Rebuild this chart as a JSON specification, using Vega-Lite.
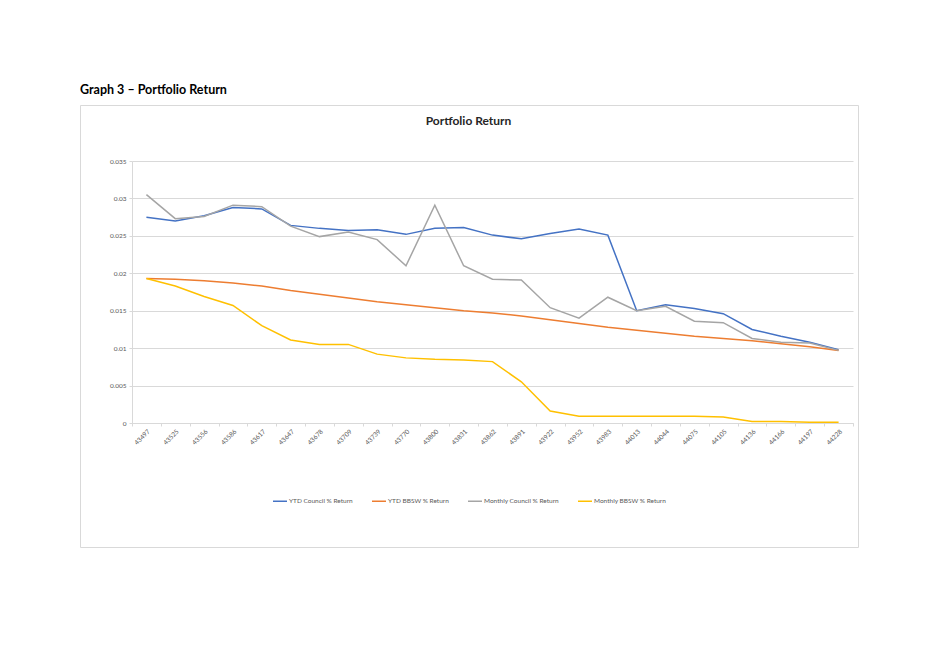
{
  "$schema": "https://vega.github.io/schema/vega-lite/v6.json",
  "width": 778,
  "height": 442,
  "autosize": {"type": "none"},
  "padding": {"left": 80, "top": 105, "right": 81, "bottom": 117},
  "background": "white",
  "title": {"text": "Graph 3 – Portfolio Return", "anchor": "start", "frame": "group", "fontSize": 12.5, "fontWeight": "bold", "color": "#000000", "offset": 9, "font": "Lato"},
  "config": {
    "font": "Lato",
    "view": {"stroke": "#d9d9d9", "strokeWidth": 1}
  },
  "datasets": {
    "series": [
      {"date": "43497", "series": "YTD Council % Return", "value": 0.0275},
      {"date": "43525", "series": "YTD Council % Return", "value": 0.0270},
      {"date": "43556", "series": "YTD Council % Return", "value": 0.0277},
      {"date": "43586", "series": "YTD Council % Return", "value": 0.0288},
      {"date": "43617", "series": "YTD Council % Return", "value": 0.0286},
      {"date": "43647", "series": "YTD Council % Return", "value": 0.0264},
      {"date": "43678", "series": "YTD Council % Return", "value": 0.0260},
      {"date": "43709", "series": "YTD Council % Return", "value": 0.0257},
      {"date": "43739", "series": "YTD Council % Return", "value": 0.0258},
      {"date": "43770", "series": "YTD Council % Return", "value": 0.0252},
      {"date": "43800", "series": "YTD Council % Return", "value": 0.0260},
      {"date": "43831", "series": "YTD Council % Return", "value": 0.0261},
      {"date": "43862", "series": "YTD Council % Return", "value": 0.0251},
      {"date": "43891", "series": "YTD Council % Return", "value": 0.0246},
      {"date": "43922", "series": "YTD Council % Return", "value": 0.0253},
      {"date": "43952", "series": "YTD Council % Return", "value": 0.0259},
      {"date": "43983", "series": "YTD Council % Return", "value": 0.0251},
      {"date": "44013", "series": "YTD Council % Return", "value": 0.0150},
      {"date": "44044", "series": "YTD Council % Return", "value": 0.0158},
      {"date": "44075", "series": "YTD Council % Return", "value": 0.0153},
      {"date": "44105", "series": "YTD Council % Return", "value": 0.0146},
      {"date": "44136", "series": "YTD Council % Return", "value": 0.0125},
      {"date": "44166", "series": "YTD Council % Return", "value": 0.0116},
      {"date": "44197", "series": "YTD Council % Return", "value": 0.0108},
      {"date": "44228", "series": "YTD Council % Return", "value": 0.0098},
      {"date": "43497", "series": "YTD BBSW % Return", "value": 0.0193},
      {"date": "43525", "series": "YTD BBSW % Return", "value": 0.0192},
      {"date": "43556", "series": "YTD BBSW % Return", "value": 0.0190},
      {"date": "43586", "series": "YTD BBSW % Return", "value": 0.0187},
      {"date": "43617", "series": "YTD BBSW % Return", "value": 0.0183},
      {"date": "43647", "series": "YTD BBSW % Return", "value": 0.0177},
      {"date": "43678", "series": "YTD BBSW % Return", "value": 0.0172},
      {"date": "43709", "series": "YTD BBSW % Return", "value": 0.0167},
      {"date": "43739", "series": "YTD BBSW % Return", "value": 0.0162},
      {"date": "43770", "series": "YTD BBSW % Return", "value": 0.0158},
      {"date": "43800", "series": "YTD BBSW % Return", "value": 0.0154},
      {"date": "43831", "series": "YTD BBSW % Return", "value": 0.0150},
      {"date": "43862", "series": "YTD BBSW % Return", "value": 0.0147},
      {"date": "43891", "series": "YTD BBSW % Return", "value": 0.0143},
      {"date": "43922", "series": "YTD BBSW % Return", "value": 0.0138},
      {"date": "43952", "series": "YTD BBSW % Return", "value": 0.0133},
      {"date": "43983", "series": "YTD BBSW % Return", "value": 0.0128},
      {"date": "44013", "series": "YTD BBSW % Return", "value": 0.0124},
      {"date": "44044", "series": "YTD BBSW % Return", "value": 0.0120},
      {"date": "44075", "series": "YTD BBSW % Return", "value": 0.0116},
      {"date": "44105", "series": "YTD BBSW % Return", "value": 0.0113},
      {"date": "44136", "series": "YTD BBSW % Return", "value": 0.0110},
      {"date": "44166", "series": "YTD BBSW % Return", "value": 0.0106},
      {"date": "44197", "series": "YTD BBSW % Return", "value": 0.0102},
      {"date": "44228", "series": "YTD BBSW % Return", "value": 0.0097},
      {"date": "43497", "series": "Monthly Council % Return", "value": 0.0305},
      {"date": "43525", "series": "Monthly Council % Return", "value": 0.0273},
      {"date": "43556", "series": "Monthly Council % Return", "value": 0.0276},
      {"date": "43586", "series": "Monthly Council % Return", "value": 0.0291},
      {"date": "43617", "series": "Monthly Council % Return", "value": 0.0289},
      {"date": "43647", "series": "Monthly Council % Return", "value": 0.0263},
      {"date": "43678", "series": "Monthly Council % Return", "value": 0.0249},
      {"date": "43709", "series": "Monthly Council % Return", "value": 0.0255},
      {"date": "43739", "series": "Monthly Council % Return", "value": 0.0245},
      {"date": "43770", "series": "Monthly Council % Return", "value": 0.0210},
      {"date": "43800", "series": "Monthly Council % Return", "value": 0.0291},
      {"date": "43831", "series": "Monthly Council % Return", "value": 0.0210},
      {"date": "43862", "series": "Monthly Council % Return", "value": 0.0192},
      {"date": "43891", "series": "Monthly Council % Return", "value": 0.0191},
      {"date": "43922", "series": "Monthly Council % Return", "value": 0.0154},
      {"date": "43952", "series": "Monthly Council % Return", "value": 0.0140},
      {"date": "43983", "series": "Monthly Council % Return", "value": 0.0168},
      {"date": "44013", "series": "Monthly Council % Return", "value": 0.0150},
      {"date": "44044", "series": "Monthly Council % Return", "value": 0.0156},
      {"date": "44075", "series": "Monthly Council % Return", "value": 0.0136},
      {"date": "44105", "series": "Monthly Council % Return", "value": 0.0134},
      {"date": "44136", "series": "Monthly Council % Return", "value": 0.0113},
      {"date": "44166", "series": "Monthly Council % Return", "value": 0.0108},
      {"date": "44197", "series": "Monthly Council % Return", "value": 0.0107},
      {"date": "44228", "series": "Monthly Council % Return", "value": 0.0097},
      {"date": "43497", "series": "Monthly BBSW % Return", "value": 0.0193},
      {"date": "43525", "series": "Monthly BBSW % Return", "value": 0.0183},
      {"date": "43556", "series": "Monthly BBSW % Return", "value": 0.0169},
      {"date": "43586", "series": "Monthly BBSW % Return", "value": 0.0157},
      {"date": "43617", "series": "Monthly BBSW % Return", "value": 0.0130},
      {"date": "43647", "series": "Monthly BBSW % Return", "value": 0.0111},
      {"date": "43678", "series": "Monthly BBSW % Return", "value": 0.0105},
      {"date": "43709", "series": "Monthly BBSW % Return", "value": 0.0105},
      {"date": "43739", "series": "Monthly BBSW % Return", "value": 0.0092},
      {"date": "43770", "series": "Monthly BBSW % Return", "value": 0.0087},
      {"date": "43800", "series": "Monthly BBSW % Return", "value": 0.0085},
      {"date": "43831", "series": "Monthly BBSW % Return", "value": 0.0084},
      {"date": "43862", "series": "Monthly BBSW % Return", "value": 0.0082},
      {"date": "43891", "series": "Monthly BBSW % Return", "value": 0.0055},
      {"date": "43922", "series": "Monthly BBSW % Return", "value": 0.0016},
      {"date": "43952", "series": "Monthly BBSW % Return", "value": 0.0009},
      {"date": "43983", "series": "Monthly BBSW % Return", "value": 0.0009},
      {"date": "44013", "series": "Monthly BBSW % Return", "value": 0.0009},
      {"date": "44044", "series": "Monthly BBSW % Return", "value": 0.0009},
      {"date": "44075", "series": "Monthly BBSW % Return", "value": 0.0009},
      {"date": "44105", "series": "Monthly BBSW % Return", "value": 0.0008},
      {"date": "44136", "series": "Monthly BBSW % Return", "value": 0.0002},
      {"date": "44166", "series": "Monthly BBSW % Return", "value": 0.0002},
      {"date": "44197", "series": "Monthly BBSW % Return", "value": 0.0001},
      {"date": "44228", "series": "Monthly BBSW % Return", "value": 0.0001}
    ]
  },
  "data": {"name": "series"},
  "mark": {"type": "line", "strokeWidth": 1.5},
  "encoding": {
    "x": {
      "field": "date",
      "type": "ordinal",
      "sort": null,
      "scale": {"type": "band", "range": [52, 773], "paddingInner": 0, "paddingOuter": 0},
      "axis": {
        "title": null,
        "offset": -124,
        "grid": false,
        "tickBand": "extent",
        "domainColor": "#d9d9d9",
        "tickColor": "#d9d9d9",
        "tickSize": 3,
        "labelAngle": -45,
        "labelFontSize": 6.5,
        "labelColor": "#595959",
        "labelPadding": 2
      }
    },
    "y": {
      "field": "value",
      "type": "quantitative",
      "scale": {"domain": [0, 0.035], "range": [318, 56], "nice": false, "zero": true},
      "axis": {
        "values": [0, 0.005, 0.01, 0.015, 0.02, 0.025, 0.03, 0.035],
        "format": ".3~f",
        "offset": -52,
        "grid": true,
        "gridColor": "#d9d9d9",
        "gridWidth": 1,
        "domainColor": "#d9d9d9",
        "tickColor": "#d9d9d9",
        "tickSize": 3,
        "labelFontSize": 6.5,
        "labelColor": "#595959",
        "labelPadding": 3,
        "title": "Portfolio Return",
        "titleAngle": 0,
        "titleX": 336,
        "titleY": 15,
        "titleAlign": "center",
        "titleBaseline": "middle",
        "titleFontSize": 12,
        "titleFontWeight": "bold",
        "titleColor": "#262626"
      }
    },
    "color": {
      "field": "series",
      "type": "nominal",
      "scale": {
        "domain": ["YTD Council % Return", "YTD BBSW % Return", "Monthly Council % Return", "Monthly BBSW % Return"],
        "range": ["#4472C4", "#ED7D31", "#A5A5A5", "#FFC000"]
      },
      "legend": {
        "title": null,
        "orient": "none",
        "legendX": 192,
        "legendY": 388,
        "direction": "horizontal",
        "columns": 4,
        "padding": 0,
        "symbolType": "stroke",
        "symbolSize": 196,
        "symbolStrokeWidth": 1.5,
        "labelFontSize": 6.5,
        "labelColor": "#595959",
        "labelOffset": 1,
        "columnPadding": 16
      }
    }
  }
}
